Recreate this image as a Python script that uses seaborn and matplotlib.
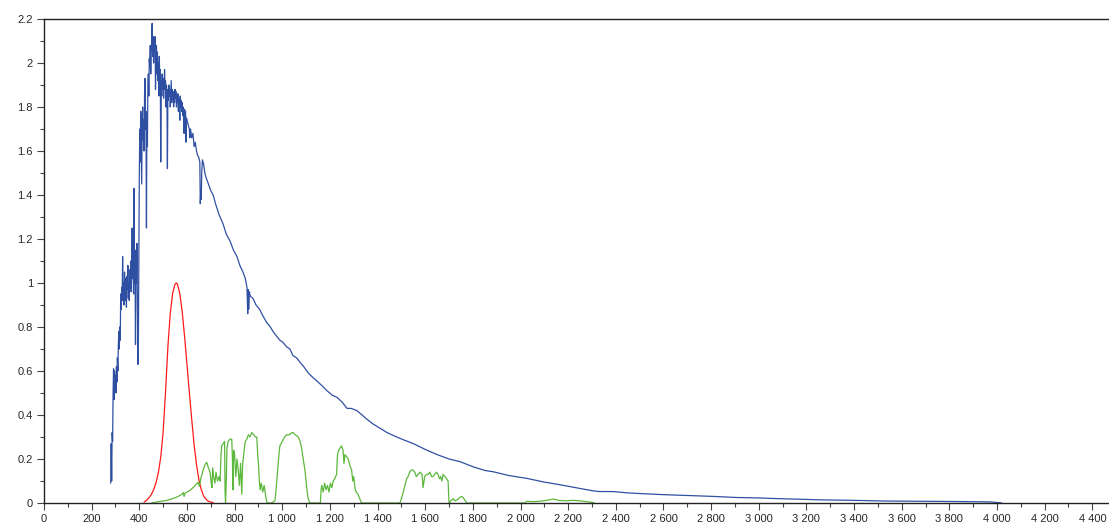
import pandas as pd
import matplotlib
matplotlib.use("Agg")
import matplotlib.pyplot as plt
from matplotlib.ticker import MultipleLocator, FuncFormatter
import seaborn as sns

# solar spectrum (blue)
blue_wl = [280, 282, 284, 286, 288, 290, 292, 294, 296, 298, 300, 302, 304, 306, 308, 310,
           312, 314, 316, 318, 320, 322, 324, 326, 328, 330, 332, 334, 336, 338, 340, 342,
           344, 346, 348, 350, 352, 354, 356, 358, 360, 362, 364, 366, 368, 370, 372, 374,
           376, 378, 380, 382, 384, 386, 388, 390, 392, 394, 396, 398,
           400, 402, 404, 406, 408, 410, 412, 414, 416, 418, 420, 422, 424, 426, 428, 430,
           432, 434, 436, 438, 440, 442, 444, 446, 448, 450, 452, 454, 456, 458, 460, 462,
           464, 466, 468, 470, 472, 474, 476, 478, 480, 482, 484, 486, 488, 490, 492, 494,
           496, 498, 500, 502, 504, 506, 508, 510, 512, 514, 516, 518, 520, 522, 524, 526,
           528, 530, 532, 534, 536, 538, 540, 542, 544, 546, 548, 550, 552, 554, 556, 558,
           560, 562, 564, 566, 568, 570, 572, 574, 576, 578, 580, 582, 584, 586, 588, 590,
           592, 594, 596, 598, 600, 605, 610, 612, 615, 620, 625, 630, 635, 640, 645, 650,
           654, 656, 658, 660, 662, 665, 670, 675, 680, 690,
           700, 710, 720, 726, 735, 751, 760, 766, 781, 795, 810, 822, 835, 845, 852, 855,
           857, 859, 862, 866, 877, 890, 905, 919, 935, 950, 961, 975, 990, 1003, 1018, 1032,
           1045, 1060, 1074, 1090, 1110, 1129, 1150, 1170, 1188, 1210, 1230, 1250, 1272, 1290,
           1313, 1335, 1356, 1380, 1410, 1440, 1470, 1507, 1550, 1607, 1650, 1700, 1746, 1800,
           1850, 1886, 1950, 2026, 2100, 2166, 2220, 2306, 2330, 2388, 2450, 2500, 2598, 2700,
           2808, 2908, 3000, 3077, 3200, 3270, 3400, 3530, 3700, 3800, 3971, 4020]
blue_val = [0.09, 0.27, 0.10, 0.32, 0.28, 0.50, 0.61, 0.47, 0.60, 0.52, 0.58, 0.50, 0.62, 0.55, 0.66, 0.60,
            0.72, 0.78, 0.70, 0.80, 0.74, 0.95, 0.88, 0.98, 0.92, 1.12, 0.94, 1.00, 0.90, 1.05, 0.96, 0.92,
            1.02, 0.89, 1.03, 0.97, 1.08, 0.93, 1.00, 0.92, 1.06, 0.98, 1.10, 0.96, 1.05, 1.25, 1.02, 1.12,
            0.95, 1.43, 1.00, 1.15, 0.72, 1.10, 1.00, 1.18, 0.93, 0.63, 0.70, 1.10,
            1.48, 1.70, 1.55, 1.78, 1.62, 1.45, 1.72, 1.80, 1.65, 1.74, 1.60, 1.85, 1.93, 1.70, 1.78, 1.25,
            1.75, 1.62, 1.90, 1.95, 1.85, 2.02, 1.98, 2.08, 1.95, 2.05, 2.10, 2.18, 2.03, 2.12, 2.00, 2.10,
            2.06, 2.12, 1.88, 2.02, 2.08, 1.95, 2.05, 1.92, 2.00, 1.85, 2.03, 1.90, 1.97, 1.55, 1.92, 1.85,
            1.95, 1.88, 1.93, 1.84, 1.90, 1.97, 1.88, 1.92, 1.80, 1.90, 1.85, 1.52, 1.88, 1.83, 1.90, 1.85,
            1.88, 1.80, 1.86, 1.92, 1.82, 1.88, 1.84, 1.87, 1.80, 1.86, 1.82, 1.88, 1.84, 1.87, 1.80, 1.85,
            1.82, 1.86, 1.78, 1.84, 1.82, 1.74, 1.85, 1.80, 1.83, 1.78, 1.82, 1.76, 1.80, 1.78, 1.68, 1.79,
            1.76, 1.78, 1.64, 1.75, 1.74, 1.72, 1.70, 1.66, 1.70, 1.66, 1.68, 1.62, 1.64, 1.60, 1.58, 1.57,
            1.55, 1.36, 1.42, 1.38, 1.50, 1.56, 1.54, 1.50, 1.48, 1.45,
            1.42, 1.40, 1.36, 1.34, 1.31, 1.27, 1.24, 1.22, 1.19, 1.15, 1.12, 1.08, 1.05, 1.02, 0.98, 0.86,
            0.97, 0.88, 0.96, 0.94, 0.93, 0.90, 0.88, 0.85, 0.82, 0.80, 0.78, 0.76, 0.74, 0.73, 0.71, 0.70,
            0.67, 0.66, 0.64, 0.62, 0.59, 0.57, 0.55, 0.53, 0.51, 0.49, 0.48, 0.46, 0.43, 0.43,
            0.42, 0.40, 0.38, 0.36, 0.34, 0.32, 0.305, 0.288, 0.27, 0.24, 0.22, 0.20, 0.188, 0.165,
            0.148, 0.142, 0.125, 0.112, 0.095, 0.083, 0.072, 0.055, 0.052, 0.052, 0.046, 0.043, 0.038, 0.034,
            0.030, 0.025, 0.023, 0.020, 0.016, 0.014, 0.012, 0.009, 0.008, 0.007, 0.005, 0.0]

# eye sensitivity curve (red)
red_wl = [420, 430, 440, 450, 460, 470, 480, 490, 500, 510, 520, 530, 540, 550, 555,
          560, 570, 580, 590, 600, 610, 620, 630, 640, 650, 660, 670, 680, 690, 700, 710]
red_val = [0.004, 0.0116, 0.023, 0.038, 0.060, 0.091, 0.139, 0.208, 0.323, 0.503, 0.710, 0.862,
           0.954, 0.995, 1.0, 0.995, 0.952, 0.870, 0.757, 0.631, 0.503, 0.381, 0.265, 0.175,
           0.107, 0.061, 0.032, 0.017, 0.008, 0.004, 0.002]

# green curve
green_wl = [452, 470, 490, 515, 540, 560, 571, 580, 584, 588, 592, 600, 610, 626, 635, 647,
            652, 658, 668, 676, 683, 690, 697, 702, 705, 708, 712, 717, 722, 728, 735, 739,
            743, 746, 752, 758, 760, 762, 765, 768, 773, 780, 788, 791, 793, 796, 800, 805,
            810, 815, 820, 825, 830, 834, 840, 845, 851, 858, 865, 872, 880, 887, 893, 897,
            900, 904, 907, 912, 918, 924, 928, 932, 937, 955, 969, 973, 977, 982, 986, 990,
            1000, 1010, 1018, 1030, 1040, 1046, 1055, 1067, 1075, 1081, 1088, 1095, 1099, 1102,
            1106, 1109, 1115, 1160, 1163, 1166, 1172, 1178, 1184, 1190, 1196, 1202, 1208, 1214,
            1220, 1228, 1232, 1237, 1243, 1249, 1255, 1259, 1263, 1270, 1277, 1284, 1291, 1296,
            1300, 1305, 1310, 1318, 1325, 1333, 1494, 1500, 1507, 1515, 1522, 1528, 1535, 1542,
            1549, 1556, 1563, 1570, 1578, 1587, 1591, 1598, 1605, 1612, 1620, 1627, 1633, 1640,
            1647, 1654, 1660, 1665, 1670, 1675, 1683, 1690, 1696, 1698, 1700, 1708, 1717, 1725,
            1735, 1745, 1754, 1762, 1768, 1775, 2020, 2026, 2050, 2082, 2110, 2138, 2160, 2190,
            2220, 2250, 2280, 2300, 2310]
green_val = [0.0, 0.004, 0.008, 0.012, 0.02, 0.028, 0.035, 0.04, 0.048, 0.03, 0.045, 0.05, 0.055, 0.07, 0.08, 0.095,
             0.075, 0.11, 0.15, 0.175, 0.185, 0.16, 0.14, 0.09, 0.07, 0.16, 0.12, 0.09, 0.14, 0.10, 0.12, 0.10,
             0.22, 0.26, 0.27, 0.28, 0.05, 0.0, 0.10, 0.25, 0.28, 0.29, 0.29, 0.20, 0.06, 0.24, 0.22, 0.12,
             0.20, 0.15, 0.08, 0.18, 0.04, 0.18, 0.24, 0.28, 0.29, 0.31, 0.30, 0.32, 0.31, 0.30, 0.30, 0.22,
             0.18, 0.10, 0.06, 0.09, 0.05, 0.08, 0.05, 0.02, 0.0, 0.0, 0.01, 0.05, 0.10, 0.17, 0.22, 0.26,
             0.28, 0.30, 0.31, 0.31, 0.32, 0.32, 0.31, 0.30, 0.28, 0.25, 0.20, 0.15, 0.11, 0.075,
             0.04, 0.02, 0.0, 0.0, 0.06, 0.08, 0.05, 0.09, 0.06, 0.08, 0.05, 0.09, 0.07, 0.10,
             0.11, 0.13, 0.22, 0.24, 0.25, 0.26, 0.24, 0.18, 0.22, 0.21, 0.20, 0.17, 0.15, 0.10,
             0.12, 0.07, 0.05, 0.04, 0.02, 0.0, 0.0, 0.02, 0.046, 0.08, 0.11, 0.12, 0.14, 0.15,
             0.15, 0.14, 0.12, 0.13, 0.14, 0.13, 0.07, 0.12, 0.13, 0.13, 0.14, 0.12, 0.12, 0.13,
             0.14, 0.13, 0.11, 0.12, 0.10, 0.13, 0.12, 0.11, 0.10, 0.05, 0.0, 0.01, 0.02, 0.01,
             0.015, 0.025, 0.03, 0.02, 0.01, 0.0, 0.0, 0.008, 0.006, 0.008, 0.012, 0.018, 0.012, 0.01,
             0.012, 0.01, 0.006, 0.003, 0.0]

blue = pd.DataFrame({'wl': blue_wl, 'val': blue_val})
red = pd.DataFrame({'wl': red_wl, 'val': red_val})
green = pd.DataFrame({'wl': green_wl, 'val': green_val})

sns.set_style("ticks")
plt.rcParams['font.family'] = ['Liberation Sans', 'DejaVu Sans']

fig = plt.figure(figsize=(11.09, 5.24), dpi=100)
ax = fig.add_axes([44 / 1109, 21 / 524, 1065 / 1109, 484 / 524])

sns.lineplot(data=blue, x='wl', y='val', ax=ax, color='#2f50a2', lw=0.9, estimator=None, sort=False)
sns.lineplot(data=red, x='wl', y='val', ax=ax, color='#ff1a1a', lw=0.9, estimator=None, sort=False)
sns.lineplot(data=green, x='wl', y='val', ax=ax, color='#5cb83c', lw=0.9, estimator=None, sort=False)

ax.set_xlim(0, 4470)
ax.set_ylim(0, 2.2)
ax.xaxis.set_major_locator(MultipleLocator(200))
ax.xaxis.set_minor_locator(MultipleLocator(100))
ax.yaxis.set_major_locator(MultipleLocator(0.2))
ax.yaxis.set_minor_locator(MultipleLocator(0.1))
ax.xaxis.set_major_formatter(FuncFormatter(lambda v, p: f"{int(round(v)):,}".replace(",", " ")))
ax.yaxis.set_major_formatter(FuncFormatter(lambda v, p: f"{v:.1f}".rstrip('0').rstrip('.')))
ax.tick_params(which='major', length=5, width=0.8, color='#444444', labelsize=8, pad=3)
ax.tick_params(which='minor', length=3, width=0.8, color='#444444')
ax.set_xlabel('')
ax.set_ylabel('')

ax.spines['right'].set_visible(False)
for s in ['top', 'left', 'bottom']:
    ax.spines[s].set_linewidth(1.0)
    ax.spines[s].set_color('#222222')

fig.savefig('out.png', dpi=100)
